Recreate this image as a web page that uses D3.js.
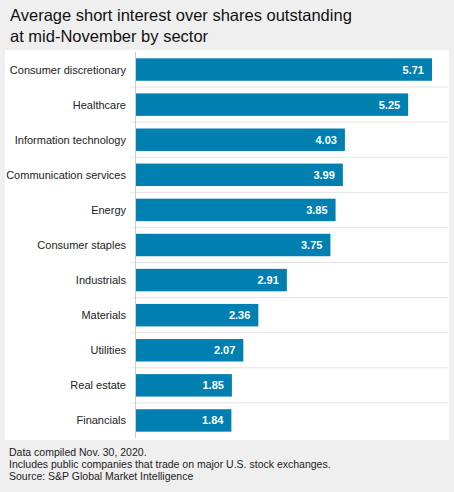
<!DOCTYPE html>
<html><head><meta charset="utf-8">
<script src="https://cdn.jsdelivr.net/npm/d3@7"></script>
<style>body{margin:0;background:#efefef;font-family:"Liberation Sans",Arial,sans-serif}</style>
</head><body>
<svg id="c" width="454" height="492"></svg>
<script>
const categories=["Consumer discretionary","Healthcare","Information technology","Communication services","Energy","Consumer staples","Industrials","Materials","Utilities","Real estate","Financials"];
const values=[5.71,5.25,4.03,3.99,3.85,3.75,2.91,2.36,2.07,1.85,1.84];
const notes=["Data compiled Nov. 30, 2020.","Includes public companies that trade on major U.S. stock exchanges.","Source: S&P Global Market Intelligence"];
const svg=d3.select("#c");
svg.append("rect").attr("width",454).attr("height",492).attr("fill","#efefef");
svg.append("text").attr("x",10).attr("y",21).attr("font-size",16.5).attr("fill","#111").text("Average short interest over shares outstanding");
svg.append("text").attr("x",10).attr("y",42).attr("font-size",16.5).attr("fill","#111").text("at mid-November by sector");
svg.append("rect").attr("x",5).attr("y",50).attr("width",444).attr("height",390).attr("fill","#fff");
const x=d3.scaleLinear().domain([0,5.71]).range([136,432]);
const y=d3.scaleBand().domain(categories).range([52,438]).paddingInner(0.36).paddingOuter(0.18);
const step=y.step();
categories.slice(1).forEach(c=>{const yy=y(c)-step*y.paddingInner()/2;
 svg.append("line").attr("x1",131).attr("x2",448).attr("y1",yy).attr("y2",yy).attr("stroke","#e4e4e4");});
svg.append("line").attr("x1",135.5).attr("x2",135.5).attr("y1",52).attr("y2",438).attr("stroke","#ccc");
const g=svg.selectAll("g.b").data(categories).enter().append("g");
g.append("rect").attr("x",x(0)).attr("y",d=>y(d)).attr("height",y.bandwidth()).attr("width",(d,i)=>x(values[i])-x(0)).attr("fill","#0080b0");
g.append("text").attr("x",(d,i)=>x(values[i])-8).attr("y",d=>y(d)+y.bandwidth()/2+4).attr("text-anchor","end").attr("fill","#fff").attr("font-weight","bold").attr("font-size",11).text((d,i)=>values[i].toFixed(2));
g.append("text").attr("x",126).attr("y",d=>y(d)+y.bandwidth()/2+4).attr("text-anchor","end").attr("fill","#222").attr("font-size",11).text(d=>d);
notes.forEach((n,i)=>svg.append("text").attr("x",9).attr("y",456+i*12).attr("font-size",10.5).attr("fill","#222").text(n));
</script></body></html>
